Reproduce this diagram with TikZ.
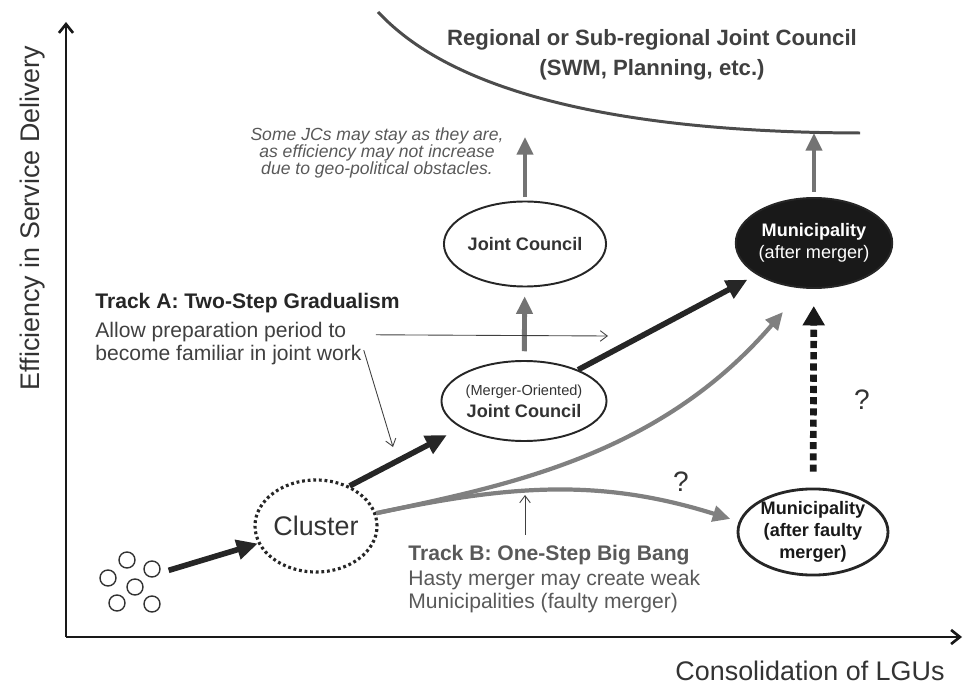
\documentclass[tikz,border=0pt]{standalone}
\usepackage{fontspec}
\setmainfont{Liberation Sans}
\usetikzlibrary{shapes.geometric,arrows.meta,positioning}

\begin{document}
\begin{tikzpicture}[
    axis/.style={-{Straight Barb[length=5pt,width=8pt]}, line width=1.5pt, draw=black!90},
    council/.style={ellipse, draw=black!85, line width=1.1pt, inner sep=0pt, minimum width=2.8cm, minimum height=1.7cm, text=black!80, align=center, font=\fontsize{10.3}{12.5}\selectfont},
    heavyarrow/.style={-{Triangle[length=12pt,width=11pt]}, line width=3.2pt, draw=black!85},
    greyarrow/.style={-{Triangle[length=10pt,width=9pt]}, line width=2.8pt, draw=black!55},
    trackarrow/.style={-{Triangle[length=10pt,width=9pt]}, line width=2.4pt, draw=black!50},
    dasharrow/.style={-{Triangle[length=11pt,width=12pt]}, line width=3.8pt, dash pattern=on 4pt off 2.4pt, draw=black!90},
    thinarrow/.style={-{Straight Barb[length=4pt,width=6pt]}, line width=0.5pt, draw=black!75},
    trackhead/.style={inner sep=0pt, font=\bfseries\fontsize{12}{13.6}\selectfont, text=black!85},
    tracknote/.style={inner sep=0pt, align=left, font=\fontsize{12}{13.6}\selectfont, text=black!75},
    query/.style={font=\fontsize{16}{18}\selectfont, text=black!80}
]
\useasboundingbox (-1.32,-1.02) rectangle (18.04,12.74);

% Axes
\coordinate (origin) at (0,0);
\coordinate (ytop) at (0,12.3);
\coordinate (xend) at (17.92,0);
\draw[axis] (origin) -- (ytop);
\draw[axis] (origin) -- (xend);
\node[rotate=90, font=\fontsize{15.3}{18}\selectfont, text=black!80] (ylabel) at (-0.66,8.38) {Efficiency in Service Delivery};
\node[font=\fontsize{15.3}{18}\selectfont, text=black!80] (xlabel) at (14.88,-0.68) {Consolidation of LGUs};

% Regional level
\draw[line width=1.7pt, black!70] (6.24,12.5) .. controls (7.0,11.7) and (9.0,10.1) .. (15.88,10.08);
\node[font=\bfseries\fontsize{12.6}{17}\selectfont, text=black!75, align=center] (regional) at (11.72,11.64) {Regional or Sub-regional Joint Council\\(SWM, Planning, etc.)};
\node[font=\itshape\fontsize{10}{9.6}\selectfont, text=black!65, align=center] (stay) at (6.22,9.68) {Some JCs may stay as they are,\\as efficiency may not increase\\due to geo-political obstacles.};
\coordinate (jctop) at (9.18,10.0);
\coordinate (muntop) at (14.96,10.08);

% LGUs and cluster
\node[circle, minimum size=1.6cm, inner sep=0pt] (lgus) at (1.28,1.1) {};
\draw[black!80, line width=0.8pt] (1.22,1.54) circle (0.16);
\draw[black!80, line width=0.8pt] (1.72,1.36) circle (0.16);
\draw[black!80, line width=0.8pt] (0.84,1.18) circle (0.16);
\draw[black!80, line width=0.8pt] (1.38,1.0) circle (0.16);
\draw[black!80, line width=0.8pt] (1.02,0.68) circle (0.16);
\draw[black!80, line width=0.8pt] (1.72,0.66) circle (0.16);
\node[ellipse, draw=black!85, line width=1.8pt, dash pattern=on 1.6pt off 1.6pt, inner sep=0pt, minimum width=2.44cm, minimum height=1.84cm, font=\fontsize{15.3}{18}\selectfont, text=black!80] (cluster) at (5.0,2.22) {Cluster};

% Councils and municipalities
\node[council] (jc) at (9.18,7.86) {\textbf{Joint Council}};
\node[council, minimum width=2.76cm, minimum height=1.6cm] (mojc) at (9.16,4.72) {{\fontsize{8.3}{9}\selectfont (Merger-Oriented)}\\\textbf{Joint Council}};
\node[council, fill=black!90, text=white, minimum width=3.04cm, minimum height=1.8cm] (mun) at (14.96,7.88) {\textbf{Municipality}\\(after merger)};
\node[council, line width=1.6pt, minimum width=3cm, minimum height=1.6cm, text=black!90, font=\bfseries\fontsize{10.3}{12.5}\selectfont] (faulty) at (14.94,2.1) {Municipality\\(after faulty\\merger)};

% Track A
\draw[heavyarrow] (lgus) -- (cluster);
\draw[heavyarrow, shorten >=9pt] (cluster.50) -- (mojc.203);
\draw[heavyarrow, shorten >=6pt] (mojc.30) -- (mun.209);
\draw[greyarrow, shorten <=5pt, shorten >=5pt] (mojc) -- (jc);
\draw[greyarrow, shorten <=2pt] (jc) -- (jctop);
\draw[greyarrow, shorten <=3pt] (mun) -- (muntop);

% Track B
\coordinate (bangtip) at (14.34,6.5);
\draw[trackarrow] (cluster.12) .. controls (8.88,3.04) and (11.88,3.64) .. (bangtip);
\draw[trackarrow, shorten >=5pt] (cluster.12) .. controls (8.88,3.04) and (10.68,3.18) .. (faulty.172);
\draw[dasharrow, shorten <=9pt, shorten >=9.7pt] (faulty) -- (mun);
\node[query] (q1) at (12.3,3.1) {?};
\node[query] (q2) at (15.92,4.74) {?};

% Notes
\node[trackhead, anchor=west] (tracka) at (0.58,6.68) {Track A: Two-Step Gradualism};
\node[tracknote, anchor=west] (trackanote) at (0.58,5.87) {Allow preparation period to\\become familiar in joint work};
\coordinate (gapmark) at (10.84,6.02);
\coordinate (clustermark) at (6.54,3.8);
\draw[thinarrow, shorten <=8pt] ([yshift=5pt]trackanote.east) -- (gapmark);
\draw[thinarrow, shorten <=4pt] (trackanote.east) -- (clustermark);

\node[trackhead, text=black!65, anchor=west] (trackb) at (6.84,1.64) {Track B: One-Step Big Bang};
\node[tracknote, text=black!65, anchor=west] (trackbnote) at (6.84,0.91) {Hasty merger may create weak\\Municipalities (faulty merger)};
\coordinate (splitmark) at (9.18,2.84);
\draw[thinarrow, shorten <=5.7pt] (splitmark |- trackb.north) -- (splitmark);

\end{tikzpicture}
\end{document}
